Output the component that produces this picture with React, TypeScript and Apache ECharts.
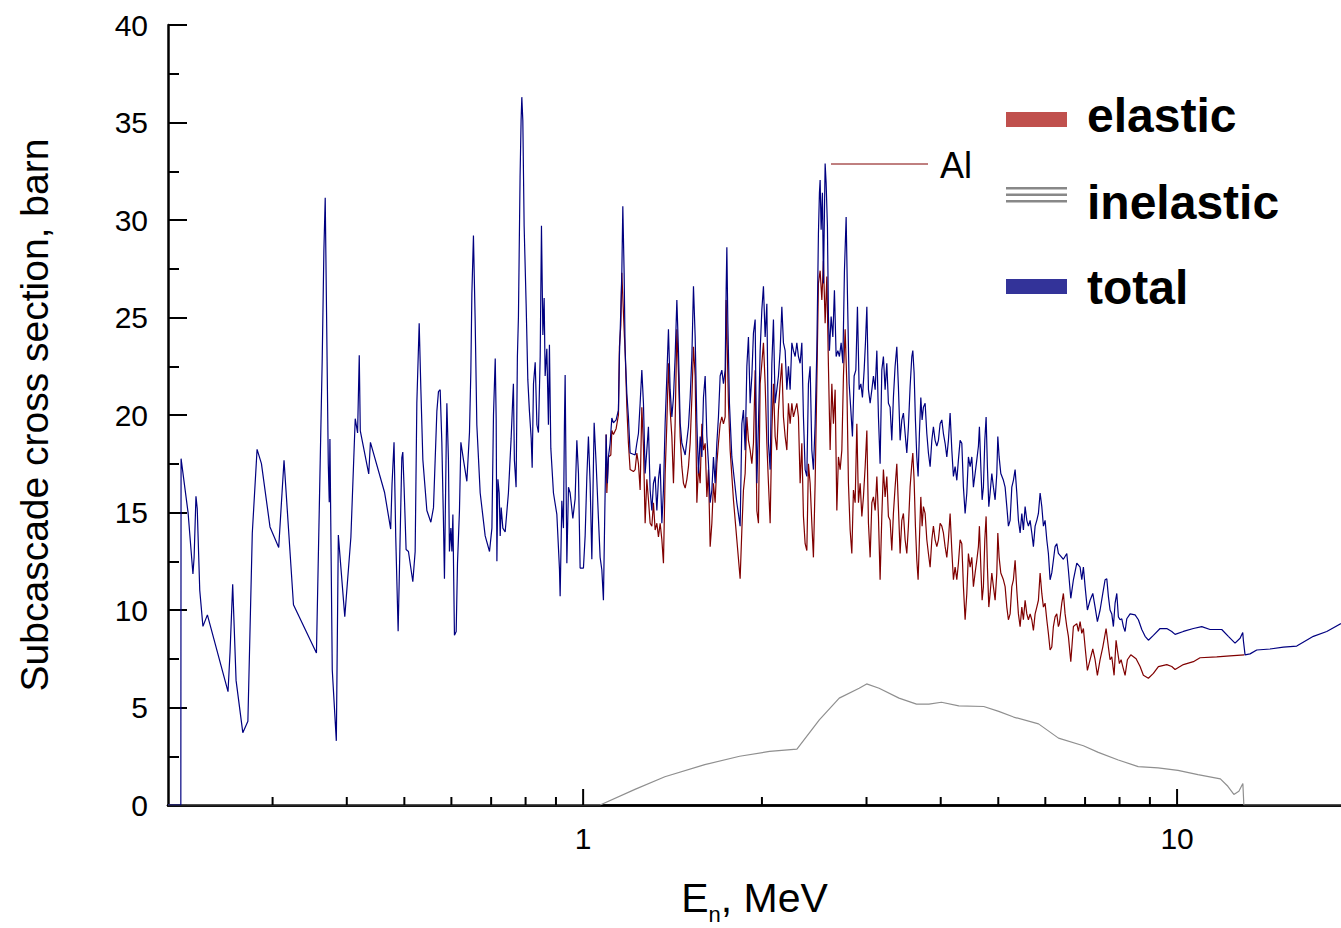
import React, { useEffect, useRef } from "react";
import * as echarts from "echarts";

const FONT = '"Liberation Sans", Arial, Helvetica, sans-serif';

// x ticks (MeV) on the logarithmic axis
const xMajorTicks = [1, 10];
const xMinorTicks = [0.3, 0.4, 0.5, 0.6, 0.7, 0.8, 0.9, 2, 3, 4, 5, 6, 7, 8, 9];

// Total subcascade cross section (barn) vs neutron energy (MeV)
const totalData: [number, number][] = [
  [0.2, 0], [0.2102, 0], [0.2104, 17.76], [0.2162, 14.99], [0.2203, 11.85], [0.2213, 12.69], [0.2229, 15.83], [0.2240, 15.2],
  [0.2262, 11.01], [0.2290, 9.16], [0.233, 9.75], [0.2524, 5.81], [0.2544, 7.86], [0.257, 11.32], [0.2604, 6.39], [0.2673, 3.71],
  [0.2726, 4.3], [0.2773, 13.94], [0.2825, 18.24], [0.2873, 17.51], [0.297, 14.26], [0.3072, 13.21], [0.3136, 17.68], [0.3253, 10.27],
  [0.3556, 7.8], [0.3636, 22.75], [0.366, 28.41], [0.3679, 31.14], [0.3698, 25.27], [0.3723, 17.51], [0.3737, 15.52], [0.3747, 18.77],
  [0.3781, 6.92], [0.3841, 3.29], [0.3871, 13.84], [0.3969, 9.65], [0.4064, 13.73], [0.4133, 19.81], [0.4171, 19.08], [0.4198, 23.06],
  [0.4215, 19.19], [0.4355, 16.98], [0.4384, 18.6], [0.463, 16.04], [0.4742, 14.15], [0.4767, 16.46], [0.4804, 18.6], [0.4836, 13.73],
  [0.4881, 8.91], [0.4951, 17.8], [0.497, 18.1], [0.4995, 16.3], [0.5034, 13.1], [0.508, 13.0], [0.5167, 11.45], [0.5214, 13.0],
  [0.5248, 20.6], [0.5296, 24.7], [0.5331, 21.3], [0.5372, 17.7], [0.5456, 15.1], [0.5541, 14.5], [0.5598, 15.25], [0.5672, 20.2],
  [0.5707, 21.2], [0.5745, 21.3], [0.5782, 18.6], [0.5818, 14.6], [0.5841, 11.6], [0.588, 18.3], [0.5896, 20.6], [0.5932, 17.7],
  [0.5955, 13.0], [0.5988, 14.2], [0.6012, 13.0], [0.6035, 14.9], [0.6072, 8.7], [0.6113, 8.9], [0.6144, 12.4], [0.6191, 15.1],
  [0.6225, 18.6], [0.6288, 17.7], [0.6371, 16.6], [0.6436, 19.1], [0.647, 22.2], [0.6496, 26.2], [0.6536, 29.2], [0.658, 24.8],
  [0.6622, 19.5], [0.6709, 16.0], [0.684, 13.8], [0.6956, 13.0], [0.7021, 14.2], [0.7064, 20.0], [0.7112, 22.9], [0.7138, 19.8],
  [0.7158, 12.5], [0.7186, 16.7], [0.7222, 16.0], [0.725, 13.8], [0.7278, 15.25], [0.7325, 14.2], [0.7391, 14.0], [0.7485, 16.0],
  [0.7564, 18.8], [0.7613, 20.9], [0.7631, 21.6], [0.766, 17.7], [0.7711, 16.3], [0.775, 23.0], [0.7781, 25.0], [0.7831, 32.2],
  [0.7862, 35.1], [0.7884, 36.3], [0.7915, 35.1], [0.7955, 29.7], [0.8017, 25.7], [0.807, 21.8], [0.812, 20.2], [0.8176, 18.8],
  [0.8207, 17.3], [0.8249, 21.6], [0.8304, 22.7], [0.8359, 19.5], [0.8409, 19.1], [0.8466, 23.0], [0.8508, 29.7], [0.8555, 24.1],
  [0.8597, 26.0], [0.863, 22.0], [0.8687, 23.4], [0.8741, 19.5], [0.8775, 23.6], [0.8822, 18.3], [0.8913, 16.0], [0.9031, 14.9],
  [0.9123, 12.1], [0.9147, 10.7], [0.9207, 15.6], [0.9265, 14.2], [0.93, 19.5], [0.9326, 22.05], [0.9388, 12.4], [0.9447, 16.3],
  [0.9508, 16.0], [0.9609, 14.7], [0.9694, 15.7], [0.9759, 18.7], [0.982, 17.0], [0.9884, 12.15], [1.0012, 12.15], [1.0078, 13.8],
  [1.0144, 16.8], [1.0207, 18.9], [1.0275, 16.5], [1.0343, 12.6], [1.0436, 19.6], [1.0517, 17.5], [1.0611, 14.7], [1.0681, 12.7],
  [1.0752, 12.05], [1.0818, 10.5], [1.0877, 15.1], [1.0932, 19.0], [1.0987, 16.5], [1.103, 17.85], [1.1103, 18.55], [1.1176, 19.85],
  [1.1246, 19.6], [1.1364, 19.75], [1.1466, 20.25], [1.151, 23.0], [1.1573, 25.4], [1.1618, 27.3], [1.1663, 30.7], [1.1722, 27.3],
  [1.1768, 23.3], [1.1846, 21.1], [1.1919, 19.9], [1.1998, 18.05], [1.2233, 17.95], [1.2314, 18.55], [1.2391, 19.05], [1.2473, 20.6],
  [1.2555, 22.3], [1.2634, 20.6], [1.2717, 17.0], [1.2801, 18.2], [1.2881, 19.4], [1.2966, 16.15], [1.3052, 15.1], [1.3133, 16.5],
  [1.322, 16.85], [1.3308, 15.1], [1.3391, 16.7], [1.3479, 17.5], [1.3569, 14.45], [1.3653, 16.15], [1.3743, 19.6], [1.3834, 22.0],
  [1.392, 24.4], [1.4012, 21.3], [1.4105, 19.9], [1.4193, 20.9], [1.4286, 23.0], [1.4381, 25.9], [1.4471, 23.3], [1.4566, 19.6],
  [1.4663, 18.55], [1.4852, 17.95], [1.5043, 19.4], [1.5142, 20.9], [1.5243, 23.0], [1.5338, 26.6], [1.5439, 24.0], [1.5541, 19.6],
  [1.5638, 17.0], [1.5741, 18.9], [1.5845, 17.85], [1.5944, 20.9], [1.6049, 22.0], [1.6155, 18.9], [1.6256, 17.5], [1.6363, 15.5],
  [1.6471, 16.15], [1.6574, 17.85], [1.6681, 16.5], [1.6792, 18.55], [1.6897, 19.9], [1.7009, 22.0], [1.7121, 22.3], [1.7228, 21.6],
  [1.7342, 22.3], [1.7409, 26.4], [1.7457, 28.6], [1.7524, 24.7], [1.7633, 20.6], [1.7798, 17.85], [1.8146, 15.5], [1.838, 14.3],
  [1.8502, 19.55], [1.8617, 20.25], [1.874, 18.2], [1.8864, 22.5], [1.8981, 24.0], [1.9107, 20.6], [1.9233, 22.0], [1.9353, 24.2],
  [1.9481, 24.9], [1.961, 16.5], [1.9732, 19.55], [1.9862, 23.3], [1.9993, 25.4], [2.0118, 26.6], [2.0251, 24.0], [2.0385, 25.7],
  [2.0512, 18.55], [2.0647, 17.2], [2.0784, 22.65], [2.0913, 24.9], [2.1051, 20.6], [2.119, 21.3], [2.1322, 22.0], [2.1463, 23.3],
  [2.1605, 25.55], [2.1739, 23.7], [2.1883, 23.3], [2.2028, 21.3], [2.2165, 22.5], [2.2311, 21.3], [2.2459, 23.7], [2.2599, 23.3],
  [2.2748, 23.0], [2.2898, 23.7], [2.3041, 23.0], [2.3193, 22.65], [2.3346, 23.7], [2.3492, 19.9], [2.3647, 17.2], [2.3803, 16.85],
  [2.3951, 21.6], [2.4109, 22.5], [2.4268, 18.2], [2.4419, 17.2], [2.4581, 19.55], [2.4743, 23.3], [2.4897, 29.3], [2.4994, 31.4],
  [2.5062, 32.05], [2.5159, 29.5], [2.5286, 31.4], [2.5385, 26.75], [2.5553, 32.9], [2.5652, 31.9], [2.5782, 29.65], [2.5882, 25.05],
  [2.5983, 23.3], [2.6155, 25.05], [2.6328, 24.0], [2.6491, 26.4], [2.6667, 23.0], [2.6843, 23.3], [2.701, 23.0], [2.7189, 23.7],
  [2.7369, 22.65], [2.7539, 27.4], [2.7721, 30.15], [2.7861, 26.2], [2.8045, 21.6], [2.8231, 20.25], [2.8406, 18.9], [2.8594, 22.0],
  [2.8783, 22.3], [2.8963, 25.55], [2.9155, 21.3], [2.9348, 21.6], [2.953, 20.9], [2.9726, 22.3], [2.9876, 23.7], [3.0039, 25.55],
  [3.0226, 21.3], [3.0425, 20.6], [3.0627, 21.3], [3.0817, 22.0], [3.1021, 21.3], [3.1226, 23.3], [3.142, 19.9], [3.1623, 17.5],
  [3.1832, 22.3], [3.203, 23.0], [3.2242, 21.3], [3.2455, 22.65], [3.2657, 20.6], [3.2873, 20.4], [3.309, 18.7], [3.3296, 20.9],
  [3.3516, 22.5], [3.3738, 23.5], [3.3948, 21.45], [3.4173, 18.7], [3.4399, 19.75], [3.4613, 20.1], [3.4842, 19.05], [3.5072, 18.05],
  [3.529, 19.4], [3.5523, 21.45], [3.5759, 23.0], [3.5898, 23.3], [3.6079, 22.15], [3.6262, 19.75], [3.6459, 17.85], [3.6643, 16.85],
  [3.6828, 19.05], [3.7029, 20.9], [3.7216, 19.75], [3.7405, 20.4], [3.7652, 20.6], [3.7901, 19.05], [3.8136, 18.05], [3.8389, 17.35],
  [3.8643, 18.7], [3.8883, 19.4], [3.914, 18.7], [3.9399, 18.4], [3.9644, 18.7], [3.9906, 19.55], [4.017, 19.75], [4.042, 19.05],
  [4.0687, 18.55], [4.0956, 17.85], [4.1211, 18.7], [4.1483, 20.1], [4.1758, 18.2], [4.2017, 16.85], [4.2295, 17.35], [4.2575, 16.65],
  [4.284, 17.7], [4.3123, 18.7], [4.3408, 18.55], [4.3679, 16.3], [4.3967, 14.95], [4.4258, 16.0], [4.4533, 17.85], [4.4828, 17.35],
  [4.5124, 17.85], [4.5405, 16.3], [4.5705, 17.0], [4.6007, 17.7], [4.6293, 18.4], [4.6473, 19.4], [4.6727, 17.35], [4.6963, 15.65],
  [4.72, 16.3], [4.7456, 18.7], [4.7696, 19.9], [4.7937, 17.35], [4.8198, 15.3], [4.8442, 16.0], [4.8762, 17.0], [4.9065, 16.3],
  [4.9389, 15.65], [4.9716, 17.0], [4.991, 18.9], [5.0162, 17.85], [5.0493, 17.0], [5.1005, 16.65], [5.1342, 16.3], [5.1681, 15.3],
  [5.2003, 14.3], [5.2347, 14.6], [5.2693, 16.3], [5.302, 16.65], [5.3372, 17.2], [5.3724, 16.0], [5.4059, 14.6], [5.4416, 13.95],
  [5.4776, 14.95], [5.5117, 14.1], [5.5481, 15.3], [5.5848, 14.6], [5.6195, 14.3], [5.6567, 14.6], [5.6941, 13.95], [5.7295, 13.25],
  [5.7674, 14.3], [5.8055, 14.6], [5.8417, 14.95], [5.8803, 16.0], [5.9192, 15.3], [5.9561, 14.3], [5.9948, 14.6], [6.0345, 13.6],
  [6.072, 12.9], [6.1122, 11.55], [6.1526, 11.9], [6.1909, 12.55], [6.2318, 13.25], [6.2729, 13.4], [6.3121, 12.9], [6.3538, 12.8],
  [6.4358, 12.6], [6.5211, 12.9], [6.5617, 12.05], [6.6231, 10.6], [6.6903, 11.55], [6.779, 12.4], [6.8663, 12.2], [6.9116, 11.55],
  [6.9547, 12.2], [7.0007, 11.2], [7.0633, 10.0], [7.1377, 10.5], [7.2127, 10.85], [7.2772, 10.15], [7.3423, 9.4], [7.4196, 10.0],
  [7.4978, 10.85], [7.5649, 11.55], [7.6149, 11.6], [7.6622, 10.7], [7.7128, 10.0], [7.7639, 9.8], [7.8122, 9.15], [7.8638, 10.35],
  [7.9158, 10.85], [7.9651, 9.65], [8.0178, 9.5], [8.0708, 9.55], [8.1211, 9.15], [8.1747, 8.9], [8.2288, 9.55], [8.3347, 9.8],
  [8.4978, 9.75], [8.6073, 9.5], [8.7216, 9.0], [8.8339, 8.65], [8.9475, 8.45], [9.1227, 8.7], [9.3628, 9.05], [9.6086, 9.05],
  [9.7967, 8.9], [9.9227, 8.75], [10.247, 8.9], [10.652, 9.05], [11.004, 9.15], [11.364, 9.0], [11.891, 9.0], [12.199, 8.65],
  [12.52, 8.3], [12.766, 8.55], [12.9, 8.85], [12.93, 8.45], [13.016, 7.7], [13.27, 7.75], [13.619, 7.95], [14.34, 8.0],
  [15.1, 8.1], [15.904, 8.15], [16.962, 8.65], [17.866, 8.9], [18.88, 9.3],
];

// Elastic subcascade cross section (barn)
const elasticData: [number, number][] = [
  [1.0932, 19.0], [1.0962, 16.0], [1.103, 17.85], [1.1133, 17.95], [1.1176, 19.2], [1.1246, 19.0], [1.1364, 19.3], [1.1466, 20.0],
  [1.151, 23.5], [1.1573, 24.6], [1.1618, 27.3], [1.1736, 24.0], [1.1768, 23.3], [1.1846, 20.4], [1.1919, 18.55], [1.1998, 17.2],
  [1.2153, 17.1], [1.2233, 17.2], [1.2314, 18.05], [1.2391, 17.5], [1.2473, 16.15], [1.2555, 20.4], [1.2634, 18.4], [1.2717, 14.45],
  [1.2801, 16.7], [1.2881, 15.65], [1.2966, 14.45], [1.3052, 14.3], [1.3133, 15.5], [1.322, 14.1], [1.3308, 14.45], [1.3391, 13.75],
  [1.3479, 14.45], [1.3569, 13.6], [1.3653, 12.4], [1.3743, 17.0], [1.3834, 19.6], [1.392, 22.65], [1.4012, 20.25], [1.4105, 18.9],
  [1.4193, 16.5], [1.4286, 19.6], [1.4381, 24.4], [1.4471, 22.15], [1.4566, 18.9], [1.4663, 17.35], [1.4754, 16.5], [1.4852, 16.25],
  [1.495, 16.7], [1.5043, 17.35], [1.5142, 18.55], [1.5243, 20.9], [1.5338, 23.5], [1.5439, 22.0], [1.5541, 15.5], [1.5638, 17.35],
  [1.5741, 16.5], [1.5845, 19.55], [1.5944, 18.2], [1.6049, 18.55], [1.6155, 15.8], [1.6256, 17.2], [1.6363, 13.25], [1.6471, 14.45],
  [1.6574, 16.5], [1.6681, 15.5], [1.6792, 17.5], [1.6897, 18.55], [1.7009, 19.55], [1.7121, 19.9], [1.7228, 19.55], [1.7342, 19.9],
  [1.7409, 25.9], [1.7497, 23.0], [1.7565, 20.6], [1.7681, 18.2], [1.7909, 15.65], [1.8146, 13.6], [1.838, 11.6], [1.8502, 14.1],
  [1.8617, 16.15], [1.874, 17.0], [1.8864, 19.9], [1.8981, 18.7], [1.9107, 18.2], [1.9233, 17.5], [1.9353, 18.55], [1.9481, 22.3],
  [1.961, 15.1], [1.9732, 14.45], [1.9862, 21.6], [1.9993, 22.65], [2.0118, 23.7], [2.0251, 21.6], [2.0385, 18.55], [2.0512, 16.5],
  [2.0647, 14.45], [2.0784, 19.2], [2.0913, 21.6], [2.1051, 18.9], [2.119, 18.2], [2.1322, 20.25], [2.1463, 21.6], [2.1605, 22.65],
  [2.1739, 19.9], [2.1883, 18.9], [2.2028, 18.2], [2.2165, 20.6], [2.2311, 19.55], [2.2459, 20.6], [2.2599, 19.9], [2.2748, 20.25],
  [2.2898, 20.6], [2.3041, 19.9], [2.3193, 16.5], [2.3346, 18.55], [2.3492, 14.8], [2.3647, 13.4], [2.3803, 13.05], [2.3951, 17.5],
  [2.4109, 16.5], [2.4268, 14.45], [2.4419, 12.7], [2.4581, 16.5], [2.4743, 21.6], [2.4897, 26.75], [2.5062, 27.4], [2.5228, 25.9],
  [2.5385, 27.9], [2.5553, 24.7], [2.5722, 27.1], [2.5882, 22.5], [2.6053, 18.2], [2.6226, 21.6], [2.6389, 19.55], [2.6563, 21.3],
  [2.6739, 15.1], [2.6906, 17.85], [2.7084, 17.2], [2.7263, 18.2], [2.7433, 22.0], [2.7614, 24.4], [2.7796, 21.6], [2.7969, 16.5],
  [2.8154, 14.1], [2.834, 12.9], [2.8516, 16.15], [2.8705, 15.5], [2.8895, 19.55], [2.9076, 15.5], [2.9268, 16.5], [2.9462, 14.8],
  [2.9645, 15.8], [2.9842, 17.35], [3.0039, 19.2], [3.0226, 14.45], [3.0425, 12.7], [3.0627, 15.5], [3.0817, 15.8], [3.1021, 15.1],
  [3.1226, 16.85], [3.142, 14.8], [3.1623, 11.55], [3.1832, 14.8], [3.203, 17.2], [3.2242, 15.8], [3.2455, 16.85], [3.2657, 14.8],
  [3.2873, 14.6], [3.309, 13.05], [3.3296, 14.95], [3.3516, 16.3], [3.3738, 17.5], [3.3948, 15.3], [3.4173, 12.9], [3.4399, 14.6],
  [3.4613, 14.95], [3.4842, 13.6], [3.5072, 12.9], [3.529, 14.3], [3.5523, 16.3], [3.5759, 17.5], [3.5898, 18.05], [3.6079, 16.65],
  [3.6262, 14.3], [3.6459, 12.55], [3.6643, 11.55], [3.6828, 13.6], [3.7029, 15.8], [3.7216, 14.3], [3.7405, 15.3], [3.7652, 14.95],
  [3.7901, 13.6], [3.8136, 12.9], [3.8389, 12.2], [3.8643, 13.6], [3.8883, 14.3], [3.914, 13.6], [3.9399, 13.25], [3.9644, 13.6],
  [3.9906, 14.45], [4.017, 14.3], [4.042, 13.95], [4.0687, 13.25], [4.0956, 12.7], [4.1211, 13.6], [4.1483, 14.95], [4.1758, 13.05],
  [4.2017, 11.55], [4.2295, 12.2], [4.2575, 11.55], [4.284, 12.4], [4.3123, 13.6], [4.3408, 13.4], [4.3679, 11.2], [4.3967, 9.5],
  [4.4258, 10.85], [4.4533, 12.9], [4.4828, 12.2], [4.5124, 12.7], [4.5405, 11.2], [4.5705, 11.9], [4.6007, 12.55], [4.6293, 13.25],
  [4.6473, 14.3], [4.6727, 12.2], [4.6963, 10.5], [4.72, 11.2], [4.7456, 13.6], [4.7696, 14.8], [4.7937, 12.2], [4.8198, 10.15],
  [4.8442, 10.85], [4.8762, 11.9], [4.9065, 11.2], [4.9389, 10.5], [4.9716, 11.9], [4.991, 13.95], [5.0162, 12.7], [5.0493, 11.9],
  [5.1005, 11.55], [5.1342, 11.2], [5.1681, 10.15], [5.2003, 9.5], [5.2347, 9.8], [5.2693, 11.2], [5.302, 11.55], [5.3372, 12.55],
  [5.3724, 11.0], [5.4059, 9.8], [5.4416, 9.15], [5.4776, 10.15], [5.5117, 9.5], [5.5481, 10.5], [5.5848, 9.8], [5.6195, 9.5],
  [5.6567, 9.8], [5.6941, 9.5], [5.7295, 8.95], [5.7674, 9.8], [5.8055, 10.15], [5.8417, 10.5], [5.8803, 11.9], [5.9192, 10.85],
  [5.9561, 10.15], [5.9948, 10.35], [6.0345, 9.5], [6.072, 8.8], [6.1122, 7.95], [6.1526, 8.1], [6.1909, 9.15], [6.2318, 9.65],
  [6.2729, 9.8], [6.3121, 9.15], [6.3366, 9.3], [6.3959, 10.35], [6.4358, 10.85], [6.4783, 9.8], [6.5211, 9.15], [6.5617, 8.65],
  [6.6231, 7.35], [6.6903, 9.15], [6.779, 9.3], [6.8212, 8.9], [6.8663, 9.4], [6.9116, 8.8], [6.9547, 9.05], [7.0007, 8.1],
  [7.0633, 6.9], [7.1377, 7.45], [7.2127, 8.0], [7.2772, 7.45], [7.3423, 6.65], [7.4196, 7.45], [7.4978, 8.1], [7.5942, 9.05],
  [7.6622, 8.1], [7.7128, 7.45], [7.7639, 7.6], [7.8334, 6.65], [7.8943, 8.45], [7.9342, 7.95], [7.996, 7.25], [8.0489, 7.45],
  [8.1022, 7.1], [8.1747, 6.65], [8.2479, 7.45], [8.3572, 7.7], [8.5309, 7.5], [8.6642, 7.1], [8.7759, 6.65], [8.9475, 6.5],
  [9.1227, 6.75], [9.3013, 7.1], [9.6086, 7.2], [9.7967, 7.1], [9.9227, 6.95], [10.247, 7.2], [10.652, 7.35], [10.932, 7.55],
  [11.663, 7.6], [12.28, 7.65], [12.98, 7.7],
];

// Inelastic subcascade cross section (barn)
const inelasticData: [number, number][] = [
  [0.2, 0], [1.0681, 0], [1.2224, 0.8], [1.3727, 1.45], [1.6024, 2.07], [1.8344, 2.5], [2.06, 2.75], [2.2907, 2.87],
  [2.4984, 4.37], [2.6989, 5.48], [2.9155, 5.99], [3.0015, 6.21], [3.1501, 5.99], [3.4028, 5.48], [3.6417, 5.17], [3.821, 5.17],
  [4.0108, 5.27], [4.2905, 5.08], [4.7254, 5.05], [5.0083, 4.8], [5.3062, 4.51], [5.8441, 4.16], [6.3146, 3.43], [6.9547, 3.04],
  [7.3681, 2.7], [7.962, 2.31], [8.6006, 1.97], [9.2904, 1.9], [10.035, 1.78], [10.843, 1.56], [11.827, 1.34], [12.176, 0.96],
  [12.462, 0.54], [12.707, 0.71], [12.905, 1.1], [12.955, 0], [18.88, 0],
];

const legendItems = ["elastic", "inelastic", "total"];

export default function App() {
  const ref = useRef<HTMLDivElement>(null);

  useEffect(() => {
    if (!ref.current) return;
    const chart = echarts.init(ref.current, undefined, { renderer: "svg" });

    const tickData = [...xMinorTicks, ...xMajorTicks].map((v) => [v, 0]);

    const option: any = {
      animation: false,
      backgroundColor: "#ffffff",
      grid: { left: 168, top: 25, right: 0, bottom: 123, containLabel: false, outerBoundsMode: "none" },
      xAxis: [
        {
          type: "log",
          logBase: 10,
          min: 0.2,
          max: 18.88,
          axisLine: { show: true, onZero: false, lineStyle: { color: "#000", width: 2.5 } },
          axisTick: { show: false },
          minorTick: { show: false },
          splitLine: { show: false },
          axisLabel: {
            showMinLabel: false,
            showMaxLabel: false,
            formatter: (v: number) =>
              Math.abs(v - 1) < 1e-6 ? "1" : Math.abs(v - 10) < 1e-6 ? "10" : "",
            fontSize: 30,
            fontFamily: FONT,
            color: "#000",
            margin: 18,
          },
          name: "E{sub|n}, MeV",
          nameLocation: "middle",
          nameGap: 72,
          nameTextStyle: {
            fontSize: 41,
            fontFamily: FONT,
            color: "#000",
            lineHeight: 41,
            rich: {
              sub: { fontSize: 22, fontFamily: FONT, color: "#000", lineHeight: 22, padding: [34, 0, 0, 0] },
            },
          },
        },
        {
          type: "value",
          position: "top",
          min: 0,
          max: 1,
          axisLine: { show: true, lineStyle: { color: "#000", width: 2.5 } },
          axisTick: { show: false },
          axisLabel: { show: false },
          splitLine: { show: false },
        },
      ],
      yAxis: {
        type: "value",
        min: 0,
        max: 40,
        interval: 5,
        axisLine: { show: true, onZero: false, lineStyle: { color: "#000", width: 2.5 } },
        axisTick: { show: true, inside: true, length: 19, lineStyle: { color: "#000", width: 2 } },
        minorTick: { show: true, splitNumber: 2, length: 11, lineStyle: { color: "#000", width: 2 } },
        splitLine: { show: false },
        minorSplitLine: { show: false },
        axisLabel: { fontSize: 30, fontFamily: FONT, color: "#000", margin: 20 },
        name: "Subcascade cross section, barn",
        nameLocation: "middle",
        nameGap: 114,
        nameTextStyle: { fontSize: 39, fontFamily: FONT, color: "#000" },
      },
      series: [
        {
          name: "inelastic",
          type: "line",
          data: inelasticData,
          showSymbol: false,
          symbol: "none",
          lineStyle: { color: "#8f8f8f", width: 1.2 },
          z: 2,
        },
        {
          name: "elastic",
          type: "line",
          data: elasticData,
          showSymbol: false,
          symbol: "none",
          lineStyle: { color: "#800000", width: 1.2 },
          z: 3,
        },
        {
          name: "total",
          type: "line",
          data: totalData,
          showSymbol: false,
          symbol: "none",
          lineStyle: { color: "#000080", width: 1.2 },
          z: 4,
        },
        {
          name: "xticks",
          type: "custom",
          data: tickData,
          silent: true,
          clip: false,
          z: 5,
          renderItem: (_params: any, api: any) => {
            const v = api.value(0);
            const p = api.coord([v, 0]);
            const major = xMajorTicks.some((m) => Math.abs(m - v) < 1e-9);
            const len = major ? 16 : 8;
            return {
              type: "line",
              shape: { x1: p[0], y1: p[1], x2: p[0], y2: p[1] - len },
              style: { stroke: "#000", lineWidth: 2 },
            };
          },
        },
      ],
      graphic: [
        { type: "rect", shape: { x: 1006, y: 112, width: 61, height: 15 }, style: { fill: "#C0504D" } },
        { type: "rect", shape: { x: 1006, y: 187, width: 61, height: 2.5 }, style: { fill: "#888888" } },
        { type: "rect", shape: { x: 1006, y: 193.5, width: 61, height: 2.5 }, style: { fill: "#888888" } },
        { type: "rect", shape: { x: 1006, y: 200, width: 61, height: 2.5 }, style: { fill: "#888888" } },
        { type: "rect", shape: { x: 1006, y: 279, width: 61, height: 15 }, style: { fill: "#333399" } },
        {
          type: "text",
          x: 1087,
          y: 115,
          style: { text: legendItems[0], font: `bold 48px ${FONT}`, fill: "#000", verticalAlign: "middle", align: "left" },
        },
        {
          type: "text",
          x: 1087,
          y: 202,
          style: { text: legendItems[1], font: `bold 48px ${FONT}`, fill: "#000", verticalAlign: "middle", align: "left" },
        },
        {
          type: "text",
          x: 1087,
          y: 287,
          style: { text: legendItems[2], font: `bold 48px ${FONT}`, fill: "#000", verticalAlign: "middle", align: "left" },
        },
        {
          type: "line",
          shape: { x1: 831, y1: 164, x2: 928, y2: 164 },
          style: { stroke: "#800000", lineWidth: 1 },
        },
        {
          type: "text",
          x: 940,
          y: 165,
          style: { text: "Al", font: `36px ${FONT}`, fill: "#000", verticalAlign: "middle", align: "left" },
        },
      ],
    };

    chart.setOption(option);
    return () => chart.dispose();
  }, []);

  return (
    <div
      ref={ref}
      style={{ position: "absolute", left: 0, top: 0, width: 1341, height: 928, background: "#fff" }}
    />
  );
}
